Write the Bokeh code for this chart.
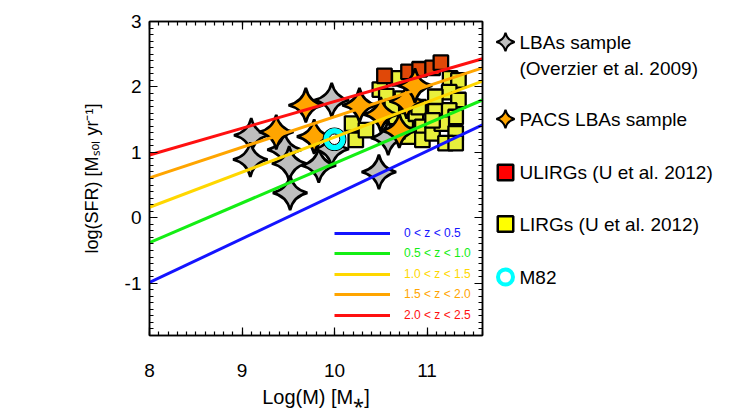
import numpy as np
from bokeh.plotting import figure
from bokeh.models import Range1d, LinearAxis, FixedTicker, Legend, LegendItem
from bokeh.layouts import row
from bokeh.embed import file_html
from bokeh.resources import INLINE
from bokeh.core.properties import value

# ---------------- data ----------------
lba_logm = [9.10, 9.09, 9.46, 9.51, 9.52, 9.83, 9.97, 9.97, 10.48, 10.58]
lba_logsfr = [1.26, 0.89, 1.04, 0.83, 0.38, 0.80, 1.05, 1.80, 0.70, 1.22]

pacs_logm = [9.37, 9.69, 9.78, 10.27, 10.50, 10.70, 10.78, 10.87]
pacs_logsfr = [1.31, 1.72, 1.24, 1.72, 1.58, 1.33, 1.78, 2.02]

lirg_logm = [10.19, 10.23, 10.34, 10.49, 10.56, 10.70, 10.73, 10.66, 10.77, 10.88,
             10.95, 10.80, 10.95, 11.06, 11.25, 11.34, 11.24, 11.34, 11.09, 11.24,
             11.31, 11.16, 11.31, 11.20, 11.31, 11.09, 10.62, 10.91, 11.06]
lirg_logsfr = [1.44, 1.19, 1.34, 1.96, 1.86, 2.13, 1.82, 1.54, 1.49, 1.59,
               1.39, 1.24, 1.19, 1.29, 2.13, 2.10, 1.92, 1.80, 1.64, 1.64,
               1.54, 1.44, 1.29, 1.14, 1.14, 1.85, 1.69, 1.69, 1.49]

ulirg_logm = [10.54, 10.80, 10.92, 11.06, 11.15]
ulirg_logsfr = [2.17, 2.23, 2.27, 2.29, 2.37]

m82_logm = [10.00]
m82_logsfr = [1.20]

z_labels = ["0 < z < 0.5", "0.5 < z < 1.0", "1.0 < z < 1.5", "1.5 < z < 2.0", "2.0 < z < 2.5"]
z_colors = ["#1414FF", "#14EE14", "#FFD700", "#FFA500", "#FF1010"]
line_x = [8.0, 11.6]
line_y_start = [-0.99, -0.38, 0.16, 0.61, 0.96]
line_y_end = [1.42, 1.80, 2.09, 2.29, 2.43]

x_ticks = [8, 9, 10, 11]
x_tick_labels = ["8", "9", "10", "11"]
y_ticks = [-1, 0, 1, 2, 3]
y_tick_labels = ["-1", "0", "1", "2", "3"]

legend_labels = ["LBAs sample", "(Overzier et al. 2009)", "PACS LBAs sample",
                 "ULIRGs (U et al. 2012)", "LIRGs (U et al. 2012)", "M82"]

FONT = "Liberation Sans"
H = 410
TOP = 21
BOTTOM = 75

# ---------------- main plot ----------------
p = figure(width=492, height=H, title=None,
           x_range=Range1d(8.0, 11.6), y_range=Range1d(-1.8, 3.0),
           output_backend="svg", toolbar_location=None,
           min_border_left=149, min_border_right=10,
           min_border_top=TOP, min_border_bottom=BOTTOM,
           background_fill_color="white")
p.xgrid.visible = False
p.ygrid.visible = False
p.outline_line_color = "black"
p.outline_line_width = 1.5

x_minor = list(np.round(np.arange(8.0, 11.6001, 0.1), 2))
y_minor = list(np.round(np.arange(-1.8, 3.0001, 0.1), 2))
xt = FixedTicker(ticks=x_ticks, minor_ticks=x_minor)
yt = FixedTicker(ticks=y_ticks, minor_ticks=y_minor)


def style_axis(ax, ticker):
    ax.ticker = ticker
    ax.axis_line_color = "black"
    ax.axis_line_width = 1.5
    ax.major_tick_in = 8
    ax.major_tick_out = 0
    ax.minor_tick_in = 4
    ax.minor_tick_out = 0
    ax.major_tick_line_color = "black"
    ax.minor_tick_line_color = "black"
    ax.major_tick_line_width = 1.2
    ax.minor_tick_line_width = 1.2
    ax.major_label_text_font = FONT
    ax.major_label_text_font_size = "19px"
    ax.major_label_text_color = "black"
    ax.axis_label_text_font = FONT
    ax.axis_label_text_font_size = "18px"
    ax.axis_label_text_font_style = "normal"
    ax.axis_label_text_color = "black"


style_axis(p.xaxis[0], xt)
style_axis(p.yaxis[0], yt)
p.xaxis[0].major_label_overrides = dict(zip(x_ticks, x_tick_labels))
p.yaxis[0].major_label_overrides = dict(zip(y_ticks, y_tick_labels))
p.xaxis[0].axis_label = "Log(M) [M\u204e]"
p.xaxis[0].axis_label_text_font_size = "20px"
p.xaxis[0].major_label_standoff = 28
p.xaxis[0].axis_label_standoff = 6
p.yaxis[0].axis_label = "log(SFR) [M\u209b\u2092\u2097 yr\u207b\u00b9]"
p.yaxis[0].major_label_standoff = 8
p.yaxis[0].axis_label_standoff = 20

# mirrored tick marks on top and right (no labels)
top_ax = LinearAxis()
style_axis(top_ax, xt)
top_ax.major_label_overrides = {t: "" for t in x_ticks}
top_ax.major_label_standoff = 0
p.add_layout(top_ax, "above")
right_ax = LinearAxis()
style_axis(right_ax, yt)
right_ax.major_label_overrides = {t: "" for t in y_ticks}
right_ax.major_label_standoff = 0
p.add_layout(right_ax, "right")

# LIRGs, ULIRGs
p.scatter(lirg_logm, lirg_logsfr, marker="square", size=14.5,
          fill_color="#E8F03C", line_color="black", line_width=2.3)
p.scatter(ulirg_logm, ulirg_logsfr, marker="square", size=14.5,
          fill_color="#E04808", line_color="black", line_width=2.3)
# LBAs
p.scatter(lba_logm, lba_logsfr, marker="square_pin", angle=np.pi / 4, size=24.5,
          fill_color="#BEBEBE", line_color="black", line_width=2.6)
# PACS LBAs
p.scatter(pacs_logm, pacs_logsfr, marker="square_pin", angle=np.pi / 4, size=24.5,
          fill_color="#FFA500", line_color="black", line_width=2.6)
# M82
p.scatter(m82_logm, m82_logsfr, marker="circle", size=22.5, fill_color=None,
          line_color="black", line_width=1.2)
p.scatter(m82_logm, m82_logsfr, marker="circle", size=16.5, fill_color="white",
          line_color="#00FFFF", line_width=5.5)
p.scatter(m82_logm, m82_logsfr, marker="circle", size=10.5, fill_color=None,
          line_color="black", line_width=1.0)

# main-sequence lines
line_renderers = []
for y0, y1, col in zip(line_y_start, line_y_end, z_colors):
    r = p.line(line_x, [y0, y1], line_color=col, line_width=3)
    line_renderers.append(r)

# inner legend: one per item so each label gets its colour
for i, (lab, col, r) in enumerate(zip(z_labels, z_colors, line_renderers)):
    lg_i = Legend(items=[LegendItem(label=lab, renderers=[r])],
                  location=(185, 95.5 - i * 20.6),
                  glyph_width=56, glyph_height=14, label_height=14,
                  label_standoff=14, padding=0, margin=0, spacing=0,
                  border_line_color=None, background_fill_alpha=0,
                  label_text_color=col, label_text_font=FONT,
                  label_text_font_size="12px")
    p.add_layout(lg_i)

# ---------------- outer key panel (page-pixel coordinates) ----------------
lg = figure(width=241, height=H, title=None,
            x_range=Range1d(493, 734), y_range=Range1d(336, 22),
            output_backend="svg", toolbar_location=None,
            min_border_left=0, min_border_right=0,
            min_border_top=TOP, min_border_bottom=BOTTOM,
            x_axis_type=None, y_axis_type=None, outline_line_color=None)
lg.xgrid.visible = False
lg.ygrid.visible = False

icon_x = 506
text_x = 520
rows_y = [42.5, 68.5, 119.5, 173.0, 224.5, 277.5]

lg.scatter([icon_x], [rows_y[0]], marker="square_pin", angle=np.pi / 4, size=13,
           fill_color="#BEBEBE", line_color="black", line_width=2)
lg.scatter([icon_x], [rows_y[2]], marker="square_pin", angle=np.pi / 4, size=13,
           fill_color="#FFA500", line_color="black", line_width=2)
lg.scatter([icon_x], [rows_y[3]], marker="square", size=15.5,
           fill_color="#FF0000", line_color="black", line_width=2.5)
lg.scatter([icon_x], [rows_y[4]], marker="square", size=15.5,
           fill_color="#FFFF00", line_color="black", line_width=2.5)
lg.scatter([icon_x], [rows_y[5]], marker="circle", size=15,
           fill_color=None, line_color="#00FFFF", line_width=4)
lg.text([text_x] * len(legend_labels), rows_y, text=legend_labels,
        text_font=value(FONT), text_font_size="19px", text_color="black",
        text_align="left", text_baseline="middle")

layout = row(p, lg)
open("out.html", "w").write(file_html(layout, INLINE))
